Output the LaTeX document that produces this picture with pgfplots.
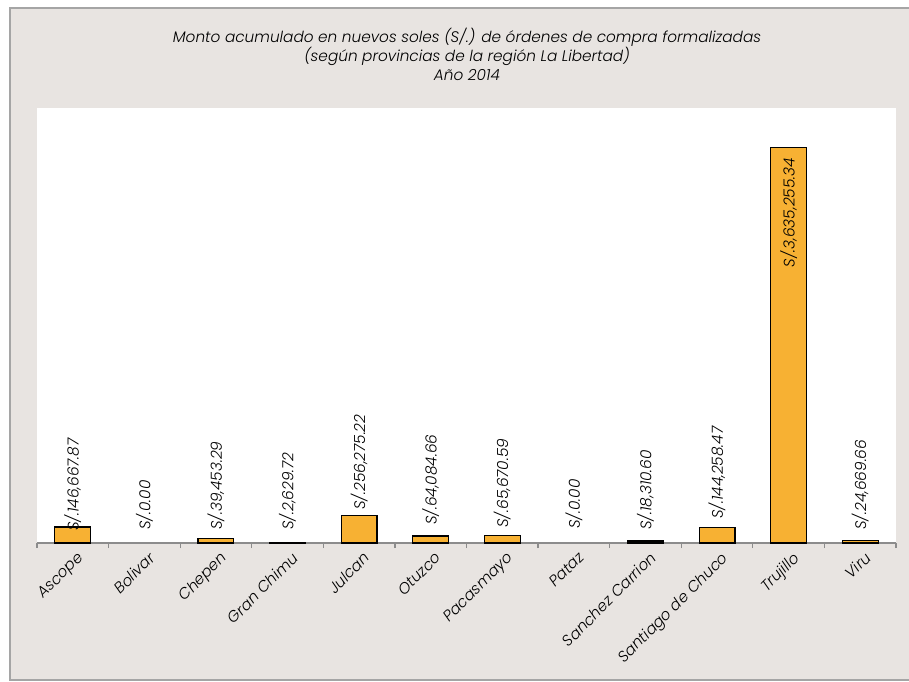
\documentclass[border=0pt]{standalone}
\usepackage{fontspec}
\setmainfont{Poppins}[UprightFont=* Light, ItalicFont=* Light Italic]
\usepackage{pgfplots}
\pgfplotsset{compat=1.18}
\usepackage{pgfplotstable}
\definecolor{bg}{RGB}{232,228,225}
\definecolor{barc}{RGB}{247,177,51}
\definecolor{framec}{RGB}{165,165,165}
\definecolor{axisc}{RGB}{140,140,140}

\pgfplotstableread{
x y
0 146667.87
1 0
2 39453.29
3 2629.72
4 256275.22
5 64084.66
6 65670.59
7 0
8 18310.60
9 144258.47
10 3635255.34
11 24669.66
}\bars

\pgfplotstableread{
x ly label
0 110000 S/.146,667.87
1 120000 S/.0.00
2 120000 S/.39,453.29
3 120000 S/.2,629.72
4 303000 S/.256,275.22
5 165000 S/.64,084.66
6 138000 S/.65,670.59
7 130000 S/.0.00
8 120000 S/.18,310.60
9 220000 S/.144,258.47
11 120000 S/.24,669.66
}\labA

\pgfplotstableread{
x ly label
10 3540000 S/.3,635,255.34
}\labB

\begin{document}
\begin{tikzpicture}
\useasboundingbox (0,0) rectangle (909pt,681pt);
\fill[white] (0,0) rectangle (909pt,681pt);
\filldraw[fill=bg, draw=framec, line width=2pt] (10pt,1pt) rectangle (915pt,673pt);
\node[align=center, font=\itshape\fontsize{15.3}{19}\selectfont] at (467pt,627pt)
 {Monto acumulado en nuevos soles (S/.) de órdenes de compra formalizadas\\(según provincias de la región La Libertad)\\Año 2014};
\begin{axis}[
 at={(37pt,138pt)}, anchor=south west,
 scale only axis, width=859pt, height=435pt,
 xmin=-0.5, xmax=11.5, ymin=0, ymax=4000000,
 axis x line*=bottom, axis y line=none,
 axis line style={draw=axisc, line width=1.3pt},
 axis background/.style={fill=white},
 xtick={0,...,11},
 xticklabels={Ascope,Bolivar,Chepen,Gran Chimu,Julcan,Otuzco,Pacasmayo,Pataz,Sanchez Carrion,Santiago de Chuco,Trujillo,Viru},
 major tick length=0pt,
 minor xtick={-0.5,0.5,...,11.5},
 minor tick length=5pt, tick align=outside,
 minor tick style={draw=axisc, line width=1.2pt},
 xticklabel style={rotate=45, anchor=north east, font=\itshape\fontsize{15.3}{16}\selectfont, inner sep=2pt, yshift=-6pt, xshift=-1pt},
 clip=false,
]
\addplot[ybar, bar width=0.5, bar shift=0pt, fill=barc, draw=black, line width=1.2pt,
 y filter/.expression={y==0 ? nan : y}, unbounded coords=discard] table[x=x,y=y]{\bars};
\addplot[only marks, mark=none, nodes near coords, point meta=explicit symbolic,
 every node near coord/.style={rotate=90, anchor=west, inner sep=0pt, font=\itshape\fontsize{15.3}{16}\selectfont}]
 table[x=x,y=ly,meta=label]{\labA};
\addplot[only marks, mark=none, nodes near coords, point meta=explicit symbolic,
 every node near coord/.style={rotate=90, anchor=east, inner sep=0pt, font=\itshape\fontsize{15.3}{16}\selectfont}]
 table[x=x,y=ly,meta=label]{\labB};
\end{axis}
\end{tikzpicture}
\end{document}
